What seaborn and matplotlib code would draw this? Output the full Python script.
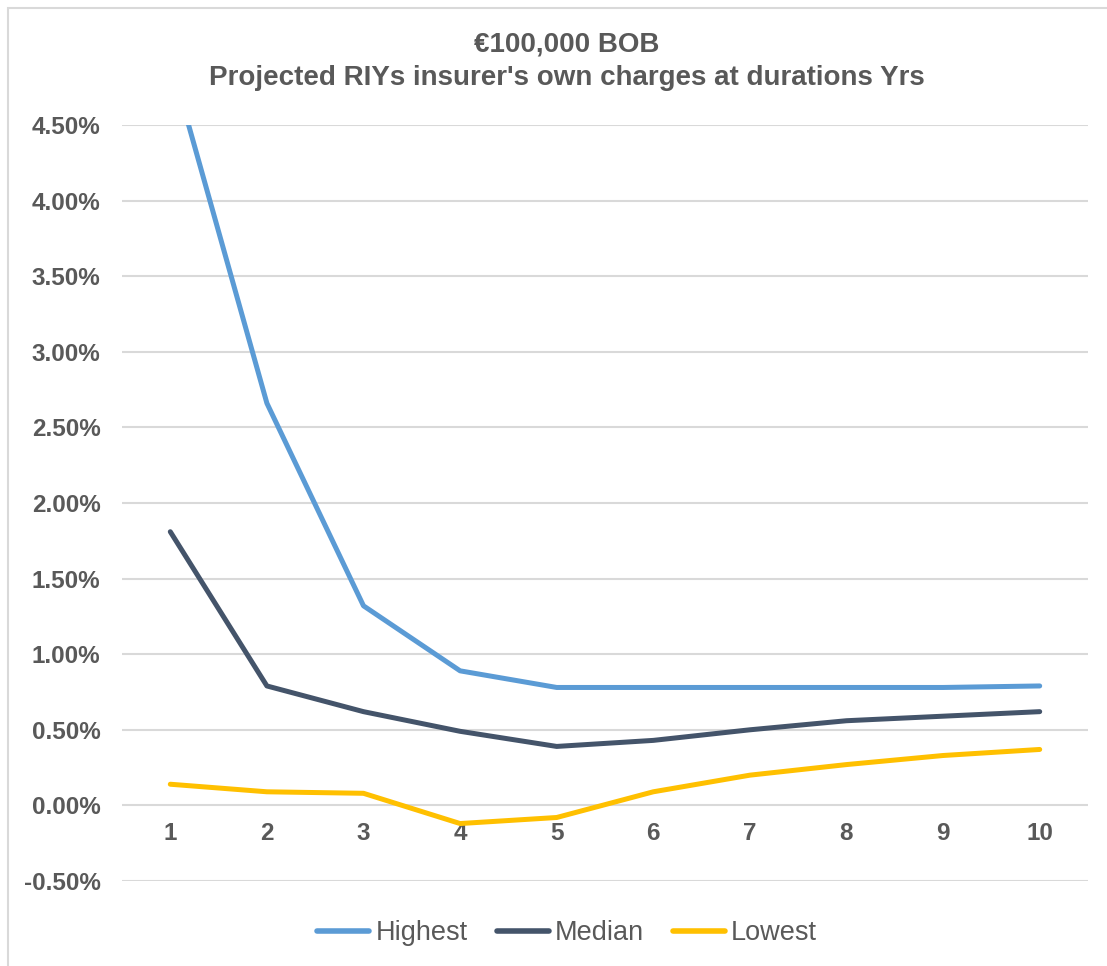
import matplotlib
matplotlib.use("Agg")
import matplotlib.pyplot as plt
import matplotlib.patches as mpatches
import numpy as np
import pandas as pd
import seaborn as sns

# Projected reduction-in-yield (%) by policy duration (years)
durations = [1, 2, 3, 4, 5, 6, 7, 8, 9, 10]
highest = [4.93, 2.66, 1.32, 0.89, 0.78, 0.78, 0.78, 0.78, 0.78, 0.79]
median = [1.81, 0.79, 0.62, 0.49, 0.39, 0.43, 0.50, 0.56, 0.59, 0.62]
lowest = [0.14, 0.09, 0.08, -0.12, -0.08, 0.09, 0.20, 0.27, 0.33, 0.37]
series_names = ["Highest", "Median", "Lowest"]
y_ticks = [-0.5, 0.0, 0.5, 1.0, 1.5, 2.0, 2.5, 3.0, 3.5, 4.0, 4.5]

title_lines = ["€100,000 BOB", "Projected RIYs insurer's own charges at durations Yrs"]

df = pd.DataFrame({
    "Duration": durations * 3,
    "RIY": highest + median + lowest,
    "Series": [s for s in series_names for _ in durations],
})

sns.set_theme(style="white")
plt.rcParams["font.family"] = ["Liberation Sans", "DejaVu Sans"]

text_color = "#595959"
grid_color = "#D9D9D9"
palette = {"Highest": "#5B9BD5", "Median": "#44546A", "Lowest": "#FFC000"}

W, H = 1107, 966
fig = plt.figure(figsize=(W / 100, H / 100), dpi=100)
ax = fig.add_axes([122 / W, 1 - 881 / H, (1088 - 122) / W, (881 - 125) / H])

# outer chart frame
fig.patches.append(mpatches.Rectangle((7.5 / W, -0.05), 1.2, 1 - 8 / H + 0.05,
                                      transform=fig.transFigure, fill=False,
                                      edgecolor=grid_color, linewidth=1.5, zorder=0))

for y in y_ticks:
    ax.axhline(y, color=grid_color, linewidth=1.5, zorder=0)

sns.lineplot(data=df, x="Duration", y="RIY", hue="Series", palette=palette,
             hue_order=series_names, linewidth=3.6, ax=ax, legend=True,
             solid_capstyle="round", solid_joinstyle="round")

ax.set_xlim(0.5, 10.5)
ax.set_ylim(-0.5, 4.5)
ax.spines["bottom"].set_position(("data", 0))
for sp in ax.spines.values():
    sp.set_visible(False)
ax.set_yticks(y_ticks)
ax.set_yticklabels([f"{v:.2f}%" for v in y_ticks])
ax.set_xticks(durations)
ax.set_xticklabels([str(d) for d in durations])
ax.tick_params(axis="y", length=0, pad=15.5, labelsize=17.5, labelcolor=text_color)
ax.tick_params(axis="x", length=0, pad=12, labelsize=17.5, labelcolor=text_color)
for lab in ax.get_xticklabels() + ax.get_yticklabels():
    lab.set_fontweight("bold")
ax.set_xlabel("")
ax.set_ylabel("")

# two-line chart title, centred on the chart frame
chart_cx = 567 / W
for line, ypix in zip(title_lines, [45, 78]):
    fig.text(chart_cx, 1 - ypix / H, line, ha="center", va="center", fontsize=20,
             fontweight="bold", color=text_color)

handles, labels = ax.get_legend_handles_labels()
leg = ax.legend(handles, labels, loc="center", ncol=3, frameon=False, fontsize=19.5,
                handlelength=1.92, handletextpad=0.22, columnspacing=1.07,
                bbox_to_anchor=((567 - 122) / (1088 - 122), -(933 - 881) / 756))
for t in leg.get_texts():
    t.set_color(text_color)
for h in leg.get_lines():
    h.set_linewidth(4)
    h.set_solid_capstyle("round")

fig.savefig("out.png", dpi=100, facecolor="white")
